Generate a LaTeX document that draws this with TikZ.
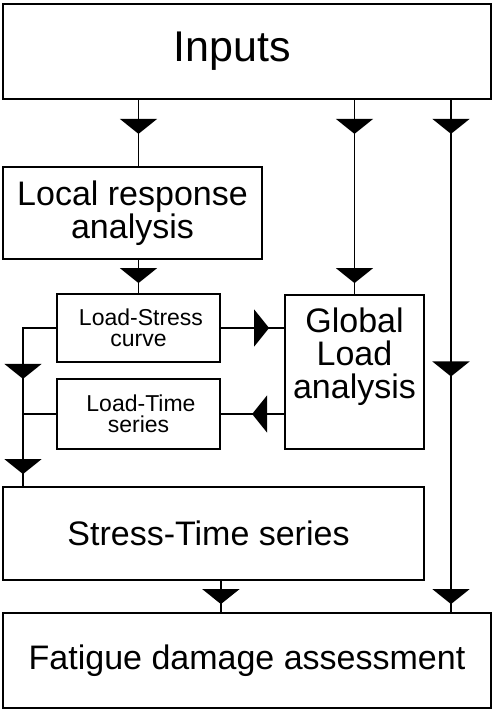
\documentclass[tikz,border=0pt]{standalone}
\usepackage{fontspec}
\setmainfont{Liberation Sans}
\usetikzlibrary{arrows.meta,decorations.markings}

\begin{document}
\begin{tikzpicture}[x=1pt, y=-1pt, line width=1.8pt,
  box/.style = {draw, rectangle, inner sep=0pt, align=center, font=\fontsize{34}{33}\selectfont},
  small/.style = {box, font=\fontsize{23}{21.5}\selectfont},
  flowtip/.style = {postaction={decorate, decoration={markings,
    mark=at position #1 with {\arrow{Triangle[width=37pt, length=15pt]}}}}}]
\useasboundingbox (0,0) rectangle (492,709);
\node[box, minimum width=488pt, minimum height=95pt, font=\fontsize{43}{42}\selectfont] (inputs) at (247,51.5) {Inputs\hspace{30pt}};
\node[box, minimum width=259pt, minimum height=92pt] (local) at (132.5,213) {Local response\\analysis};
\node[small, minimum width=163pt, minimum height=68pt] (lstress) at (138.5,328) {\hspace{5pt}Load-Stress\\curve};
\node[small, minimum width=163pt, minimum height=70pt] (ltime) at (138.5,414) {\hspace{5pt}Load-Time\\series};
\node[box, minimum width=139pt, minimum height=154pt, text depth=38pt] (global) at (354.5,372) {Global\\Load\\analysis};
\node[box, minimum width=421pt, minimum height=93pt] (stime) at (213.5,533.5) {Stress-Time series\hspace{10pt}};
\node[box, minimum width=488pt, minimum height=95pt] (fatigue) at (247,660.5) {Fatigue damage assessment};
\coordinate (rrail) at (451,0);
\coordinate (lrail) at (23,0);
% from the inputs
\draw[flowtip=34pt] (inputs.south -| lstress) -- (local.north -| lstress);
\draw[flowtip=34pt, flowtip=-11pt] (inputs.south -| global) -- (global.north);
\draw[flowtip=34pt, flowtip=0.54, flowtip=-8pt] (inputs.south -| rrail) -- (fatigue.north -| rrail);
% local and global analysis
\draw[flowtip=-10pt] (local.south -| lstress) -- (lstress.north);
\draw[flowtip=-15pt] (lstress.east) -- (global.west |- lstress.east);
\draw[flowtip=32pt] (global.west |- ltime.east) -- (ltime.east);
% to the stress-time series
\draw[flowtip=84pt, flowtip=-12pt] (lstress.west) -- (lstress.west -| lrail) -- (stime.north -| lrail);
\draw (ltime.west) -- (ltime.west -| lrail);
\draw[flowtip=-8pt] (stime.south -| lstress.east) -- (fatigue.north -| lstress.east);
\end{tikzpicture}
\end{document}
